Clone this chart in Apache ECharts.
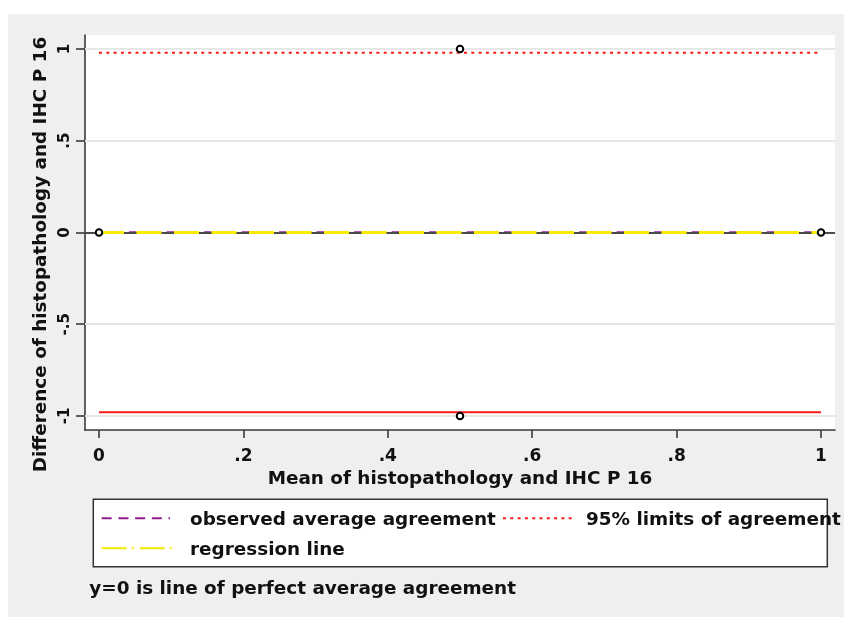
<!DOCTYPE html>
<html>
<head>
<meta charset="utf-8">
<script src="https://cdn.jsdelivr.net/npm/echarts@6/dist/echarts.min.js"></script>
<style>
  html, body { margin: 0; padding: 0; background: #ffffff; width: 844px; height: 617px; overflow: hidden; }
  #chart { position: absolute; left: 8px; top: 14px; width: 836px; height: 603px; }
</style>
</head>
<body>
<div id="chart"></div>
<script>
// ---- data ----
const pointMeans = [0, 0.5, 0.5, 1];          // x: mean of the two ratings
const pointDiffs = [0, 1, -1, 0];             // y: difference of the two ratings
const lineSpanX = [0, 1];                     // lines drawn over the observed range of means
const observedAverage = [0, 0];               // mean difference
const regressionValues = [0, 0];              // regression line of difference on mean
const upperLimitValues = [0.98, 0.98];        // upper 95% limit
const lowerLimitValues = [-0.98, -0.98];      // lower 95% limit
const perfectAgreement = 0;                   // reference line y = 0
const xTicks = [0, 0.2, 0.4, 0.6, 0.8, 1];
const yTicks = [-1, -0.5, 0, 0.5, 1];
const xTitle = 'Mean of histopathology and IHC P 16';
const yTitle = 'Difference of histopathology and IHC P 16';
const seriesNames = ['observed average agreement', '95% limits of agreement', 'regression line'];
const noteText = 'y=0 is line of perfect average agreement';

const zip = (xs, ys) => xs.map((x, i) => [x, ys[i]]);
const fmt = v => {
  const s = String(+(+v).toFixed(2));
  return s.replace(/^(-?)0\./, '$1.');
};

const FONT = '"DejaVu Sans", sans-serif';
const chart = echarts.init(document.getElementById('chart'), null, { renderer: 'canvas' });

const option = {
  backgroundColor: '#efefef',
  animation: false,
  grid: { left: 77, top: 21, width: 750, height: 395, show: true, backgroundColor: '#ffffff', borderWidth: 0, containLabel: false },
  xAxis: {
    type: 'value',
    min: -0.01939, max: 1.01939,
    name: xTitle, nameLocation: 'middle', nameGap: 33,
    nameTextStyle: { fontFamily: FONT, fontWeight: 'bold', fontSize: 18.4, color: '#111' },
    axisLine: { onZero: false, lineStyle: { color: '#3a3a3a', width: 1.6 } },
    axisTick: { show: true, inside: false, length: 8, customValues: xTicks, lineStyle: { color: '#3a3a3a', width: 1.6 } },
    axisLabel: { customValues: xTicks, formatter: fmt, margin: 18, fontFamily: FONT, fontWeight: 'bold', fontSize: 17, color: '#111' },
    splitLine: { show: false }
  },
  yAxis: {
    type: 'value',
    min: -1.0763, max: 1.0763,
    name: yTitle, nameLocation: 'middle', nameGap: 35, nameRotate: 90,
    nameTextStyle: { fontFamily: FONT, fontWeight: 'bold', fontSize: 18.4, color: '#111', padding: [0, 44, 0, 0] },
    axisLine: { onZero: false, lineStyle: { color: '#3a3a3a', width: 1.6 } },
    axisTick: { show: true, inside: false, length: 9, customValues: yTicks, lineStyle: { color: '#3a3a3a', width: 1.6 } },
    axisLabel: { customValues: yTicks, formatter: fmt, rotate: 90, margin: 12, fontFamily: FONT, fontWeight: 'bold', fontSize: 15, color: '#111' },
    splitLine: { show: false }
  },
  series: [
    {
      name: 'grid', type: 'line', data: [], z: 1, silent: true,
      markLine: {
        silent: true, symbol: 'none', label: { show: false },
        lineStyle: { color: '#e6e6e6', width: 1.8, type: 'solid' },
        data: yTicks.map(v => ({ yAxis: v }))
      }
    },
    {
      name: 'perfect', type: 'line', data: [], z: 2, silent: true,
      markLine: {
        silent: true, symbol: 'none', label: { show: false },
        lineStyle: { color: '#4a4a4a', width: 2, type: 'solid' },
        data: [{ yAxis: perfectAgreement }]
      }
    },
    {
      name: seriesNames[1], type: 'line', z: 3, showSymbol: false, symbol: 'none',
      data: zip(lineSpanX, upperLimitValues),
      lineStyle: { color: '#ff1a1a', width: 2, type: [3, 4.3] }
    },
    {
      name: 'lower limit', type: 'line', z: 3, showSymbol: false, symbol: 'none',
      data: zip(lineSpanX, lowerLimitValues),
      lineStyle: { color: '#ff1a1a', width: 2, type: 'solid' }
    },
    {
      name: seriesNames[0], type: 'line', z: 4, showSymbol: false, symbol: 'none',
      data: zip(lineSpanX, observedAverage),
      lineStyle: { color: '#9a1f9a', width: 2.6, type: [0.01, 30, 7.49, 0.01] }
    },
    {
      name: seriesNames[2], type: 'line', z: 5, showSymbol: false, symbol: 'none',
      data: zip(lineSpanX, regressionValues),
      lineStyle: { color: '#f8ea00', width: 3, type: [25, 12.5] }
    },
    {
      name: 'observations', type: 'scatter', z: 6,
      symbol: 'circle', symbolSize: 6.5,
      itemStyle: { color: '#ffffff', borderColor: '#000000', borderWidth: 2, opacity: 1 },
      emphasis: { disabled: true },
      data: zip(pointMeans, pointDiffs)
    }
  ],
  graphic: [
    { type: 'rect', shape: { x: 85.3, y: 485.3, width: 734, height: 67.4 }, style: { fill: '#ffffff', stroke: '#333333', lineWidth: 1.5 }, z: 10 },
    { type: 'line', shape: { x1: 93.7, y1: 504.3, x2: 162, y2: 504.3 }, style: { stroke: '#8e1d8e', lineWidth: 2, lineDash: [10, 6.7] }, z: 11 },
    { type: 'text', x: 182, y: 506, style: { text: seriesNames[0], font: 'bold 18.4px "DejaVu Sans", sans-serif', fill: '#111', verticalAlign: 'middle', align: 'left' }, z: 11 },
    { type: 'line', shape: { x1: 495, y1: 504.3, x2: 566, y2: 504.3 }, style: { stroke: '#ff1a1a', lineWidth: 2, lineDash: [3, 4.3] }, z: 11 },
    { type: 'text', x: 578, y: 506, style: { text: seriesNames[1], font: 'bold 18.4px "DejaVu Sans", sans-serif', fill: '#111', verticalAlign: 'middle', align: 'left' }, z: 11 },
    { type: 'line', shape: { x1: 93.7, y1: 534.3, x2: 163.7, y2: 534.3 }, style: { stroke: '#f3ea00', lineWidth: 2, lineDash: [25, 5, 2, 6] }, z: 11 },
    { type: 'text', x: 182, y: 536.3, style: { text: seriesNames[2], font: 'bold 18.4px "DejaVu Sans", sans-serif', fill: '#111', verticalAlign: 'middle', align: 'left' }, z: 11 },
    { type: 'text', x: 81.3, y: 575.5, style: { text: noteText, font: 'bold 18.4px "DejaVu Sans", sans-serif', fill: '#111', verticalAlign: 'middle', align: 'left' }, z: 11 }
  ]
};
chart.setOption(option);
</script>
</body>
</html>
